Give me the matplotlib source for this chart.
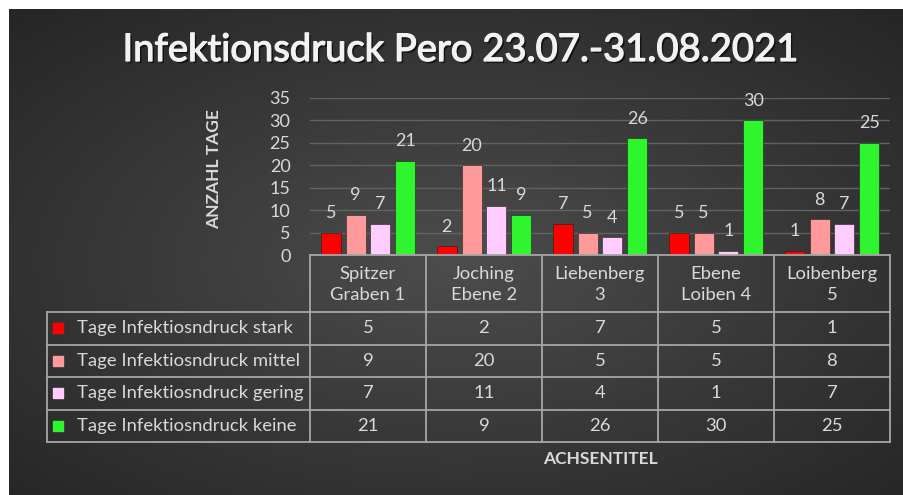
import numpy as np
import matplotlib.pyplot as plt
import matplotlib.patheffects as pe

plt.rcParams['font.family'] = ['Lato', 'DejaVu Sans']

# Standorte und Tage je Infektionsdruck-Stufe
standorte = ['Spitzer\nGraben 1', 'Joching\nEbene 2', 'Liebenberg\n3', 'Ebene\nLoiben 4', 'Loibenberg\n5']
serien = ['Tage Infektiosndruck stark', 'Tage Infektiosndruck mittel',
          'Tage Infektiosndruck gering', 'Tage Infektiosndruck keine']
stark = [5, 2, 7, 5, 1]
mittel = [9, 20, 5, 5, 8]
gering = [7, 11, 4, 1, 7]
keine = [21, 9, 26, 30, 25]
farben = ['#ff0000', '#ff9a9a', '#ffccff', '#2ef52e']

werte = [stark, mittel, gering, keine]
txt = '#d9d9d9'
linie = '#a6a6a6'

W, H = 904, 495
fig = plt.figure(figsize=(W / 100, H / 100), dpi=100)
fig.patch.set_facecolor('white')

# Hintergrund mit radialem Verlauf
bg = fig.add_axes([9 / W, 0, 1 - 9 / W, 1 - 9 / H])
yy, xx = np.mgrid[0:1:300j, 0:1:500j]
r = np.sqrt(((xx - 0.5) / 0.75) ** 2 + ((yy - 0.52) / 0.75) ** 2)
shade = np.clip(0.30 - 0.16 * r, 0.15, 0.31)
bg.imshow(np.dstack([shade] * 3), aspect='auto', extent=[0, 1, 0, 1])
bg.axis('off')

# Diagramm
x0, x1, y0, y1 = 310, 890, 255, 98
ax = fig.add_axes([x0 / W, 1 - y0 / H, (x1 - x0) / W, (y0 - y1) / H])
ax.set_facecolor('none')
x = np.arange(len(standorte))
schritt, breite = 0.214, 0.171
for i, (name, v, f) in enumerate(zip(serien, werte, farben)):
    pos = x + (i - 1.5) * schritt
    ax.bar(pos, v, width=breite, color=f, zorder=3, edgecolor='#202020', linewidth=0.4)
    for px, val in zip(pos, v):
        ax.annotate(str(val), (px, val), xytext=(0, 14), textcoords='offset points',
                    ha='center', va='center', color=txt, fontsize=13)
ax.set_xlim(-0.5, len(standorte) - 0.5)
ax.set_ylim(0, 35)
ax.set_yticks(range(0, 36, 5))
ax.yaxis.grid(True, color='#626262', linewidth=1)
ax.set_axisbelow(True)
ax.tick_params(axis='y', length=0, pad=14, labelsize=13, labelcolor=txt)
ax.set_xticks([])
for s in ax.spines.values():
    s.set_visible(False)
ax.set_ylabel('ANZAHL TAGE', color=txt, fontsize=12.5, fontweight='bold', labelpad=22)
ax.yaxis.set_label_coords(-0.152, 0.55)

fig.suptitle('Infektionsdruck Pero 23.07.-31.08.2021', x=461 / W, y=1 - 50 / H, va='center',
             color='#f2f2f2', fontsize=27.5,
             path_effects=[pe.withSimplePatchShadow(offset=(1.5, -1.5), shadow_rgbFace='black', alpha=0.6),
                           pe.withStroke(linewidth=0.9, foreground='#f2f2f2')])

# Datentabelle unter dem Diagramm
tab = fig.add_axes([0, 0, 1, 1])
tab.set_xlim(0, W)
tab.set_ylim(H, 0)
tab.axis('off')
col_w = (x1 - x0) / len(standorte)
lx = 47
rows = [255, 312, 344.5, 377, 409.5, 442]
kw = dict(color=linie, linewidth=1.3)
tab.plot([x0, x1], [rows[0], rows[0]], **kw)
for ry in rows[1:]:
    tab.plot([lx, x1], [ry, ry], **kw)
tab.plot([lx, lx], [rows[1], rows[-1]], **kw)
for c in range(len(standorte) + 1):
    cx = x0 + c * col_w
    tab.plot([cx, cx], [rows[0], rows[-1]], **kw)
for c, name in enumerate(standorte):
    cx = x0 + (c + 0.5) * col_w
    tab.text(cx, (rows[0] + rows[1]) / 2 + 1, name, ha='center', va='center',
             color=txt, fontsize=13.3, linespacing=1.35)
for r, (name, v, f) in enumerate(zip(serien, werte, farben)):
    cy = (rows[r + 1] + rows[r + 2]) / 2
    tab.add_patch(plt.Rectangle((53, cy - 5), 10, 10, color=f))
    tab.text(77, cy, name, ha='left', va='center', color=txt, fontsize=13.3)
    for c, val in enumerate(v):
        tab.text(x0 + (c + 0.5) * col_w, cy, str(val), ha='center', va='center',
                 color=txt, fontsize=13.3)
tab.text((x0 + x1) / 2, 459, 'ACHSENTITEL', ha='center', va='center',
         color=txt, fontsize=12.5, fontweight='bold')

fig.savefig('out.png', dpi=100, facecolor=fig.get_facecolor())
